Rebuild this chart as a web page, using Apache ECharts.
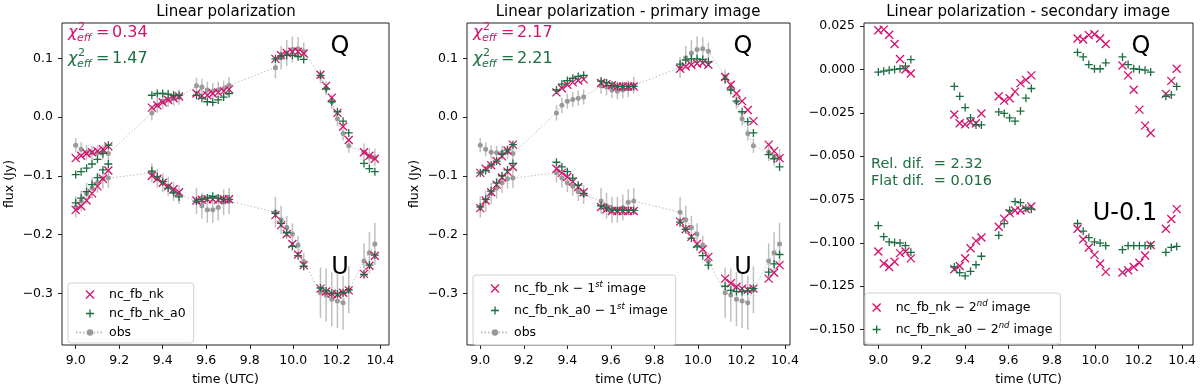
<!DOCTYPE html>
<html>
<head>
<meta charset="utf-8">
<script src="https://cdn.jsdelivr.net/npm/echarts@6/dist/echarts.min.js"></script>
<style>
  html, body { margin: 0; padding: 0; background: #fff; }
  #main { width: 1200px; height: 391px; }
</style>
</head>
<body>
<div id="main"></div>
<script>
// observation times (UTC hours)
const time = [9.0, 9.025, 9.05, 9.075, 9.1, 9.125, 9.15,
  9.35, 9.375, 9.4, 9.425, 9.45, 9.475,
  9.555, 9.58, 9.605, 9.63, 9.655, 9.68, 9.705,
  9.918, 9.944, 9.97, 9.996, 10.022, 10.048,
  10.125, 10.151, 10.177, 10.203, 10.229, 10.255,
  10.325, 10.35, 10.375]

// observed Q / U with errors
const obsQ = [-0.048, -0.055, -0.060, -0.061, -0.061, -0.060, -0.062,
  0.007, 0.020, 0.027, 0.030, 0.032, 0.034,
  0.053, 0.051, 0.046, 0.044, 0.046, 0.048, 0.054,
  0.084, 0.101, 0.109, 0.115, 0.116, 0.112,
  0.069, 0.049, 0.026, -0.003, -0.028, -0.049,
  -0.060, -0.068, -0.069]
const obsQErr = [0.012, 0.012, 0.012, 0.012, 0.012, 0.012, 0.012,
  0.013, 0.013, 0.013, 0.013, 0.013, 0.013,
  0.014, 0.014, 0.014, 0.014, 0.014, 0.014, 0.014,
  0.018, 0.020, 0.022, 0.022, 0.020, 0.015,
  0.012, 0.012, 0.012, 0.012, 0.012, 0.012,
  0.015, 0.015, 0.015]
const obsU = [-0.153, -0.143, -0.130, -0.121, -0.112, -0.105, -0.104,
  -0.095, -0.104, -0.112, -0.118, -0.127, -0.132,
  -0.143, -0.151, -0.158, -0.158, -0.154, -0.145, -0.143,
  -0.162, -0.175, -0.188, -0.199, -0.218, -0.246,
  -0.299, -0.303, -0.310, -0.313, -0.316, -0.294,
  -0.245, -0.231, -0.216]
const obsUErr = [0.018, 0.018, 0.018, 0.018, 0.017, 0.017, 0.017,
  0.016, 0.016, 0.016, 0.016, 0.016, 0.016,
  0.022, 0.022, 0.022, 0.022, 0.022, 0.022, 0.022,
  0.026, 0.024, 0.020, 0.018, 0.016, 0.015,
  0.043, 0.045, 0.046, 0.046, 0.046, 0.040,
  0.030, 0.035, 0.036]

// panel 1 - models
const p1NkQ = [-0.070, -0.066, -0.062, -0.060, -0.058, -0.055, -0.050,
  0.016, 0.020, 0.025, 0.029, 0.032, 0.035,
  0.040, 0.036, 0.037, 0.040, 0.042, 0.044, 0.047,
  0.099, 0.105, 0.109, 0.111, 0.111, 0.108,
  0.072, 0.053, 0.033, 0.007, -0.016, -0.039,
  -0.060, -0.066, -0.071]
const p1A0Q = [-0.098, -0.093, -0.087, -0.080, -0.072, -0.062, -0.048,
  0.037, 0.040, 0.040, 0.039, 0.037, 0.037,
  0.037, 0.032, 0.026, 0.025, 0.029, 0.034, 0.040,
  0.099, 0.104, 0.105, 0.105, 0.103, 0.098,
  0.071, 0.048, 0.026, 0.009, -0.007, -0.027,
  -0.079, -0.088, -0.093]
const p1NkU = [-0.158, -0.152, -0.142, -0.130, -0.118, -0.105, -0.091,
  -0.100, -0.105, -0.112, -0.118, -0.123, -0.128,
  -0.142, -0.141, -0.140, -0.140, -0.141, -0.140, -0.140,
  -0.167, -0.184, -0.199, -0.216, -0.234, -0.252,
  -0.292, -0.297, -0.301, -0.302, -0.299, -0.295,
  -0.267, -0.253, -0.236]
const p1A0U = [-0.146, -0.138, -0.127, -0.115, -0.103, -0.090, -0.080,
  -0.092, -0.102, -0.110, -0.121, -0.129, -0.136,
  -0.143, -0.140, -0.138, -0.135, -0.138, -0.140, -0.140,
  -0.164, -0.181, -0.197, -0.220, -0.236, -0.254,
  -0.291, -0.296, -0.300, -0.301, -0.299, -0.294,
  -0.268, -0.252, -0.235]

// panel 2 - primary image
const p2NkQ = [-0.095, -0.088, -0.082, -0.075, -0.067, -0.057, -0.047,
  0.042, 0.049, 0.055, 0.059, 0.062, 0.064,
  0.058, 0.056, 0.054, 0.052, 0.052, 0.052, 0.052,
  0.082, 0.086, 0.089, 0.091, 0.092, 0.089,
  0.068, 0.055, 0.040, 0.027, 0.012, -0.007,
  -0.047, -0.058, -0.070]
const p2A0Q = [-0.095, -0.091, -0.082, -0.075, -0.063, -0.056, -0.047,
  0.046, 0.056, 0.062, 0.066, 0.069, 0.071,
  0.061, 0.058, 0.054, 0.052, 0.052, 0.052, 0.052,
  0.090, 0.097, 0.099, 0.099, 0.098, 0.094,
  0.064, 0.046, 0.027, 0.009, -0.008, -0.027,
  -0.064, -0.071, -0.085]
const p2NkU = [-0.155, -0.142, -0.128, -0.115, -0.103, -0.093, -0.085,
  -0.088, -0.095, -0.102, -0.110, -0.119, -0.128,
  -0.153, -0.157, -0.160, -0.160, -0.160, -0.160, -0.160,
  -0.178, -0.191, -0.204, -0.216, -0.225, -0.238,
  -0.275, -0.283, -0.289, -0.292, -0.294, -0.292,
  -0.275, -0.265, -0.252]
const p2A0U = [-0.153, -0.140, -0.126, -0.112, -0.100, -0.090, -0.079,
  -0.077, -0.085, -0.093, -0.104, -0.116, -0.130,
  -0.151, -0.155, -0.158, -0.159, -0.159, -0.159, -0.159,
  -0.179, -0.191, -0.206, -0.221, -0.236, -0.252,
  -0.288, -0.295, -0.297, -0.297, -0.296, -0.292,
  -0.264, -0.250, -0.234]

// panel 3 - secondary image (U shifted by -0.1)
const p3NkQ = [0.0226, 0.023, 0.020, 0.0147, 0.006, 0.000, -0.0023,
  -0.026, -0.031, -0.0317, -0.0305, -0.031, -0.0254,
  -0.0155, -0.018, -0.0166, -0.0128, -0.0079, -0.006, -0.0034,
  0.0179, 0.0173, 0.0198, 0.0203, 0.0179, 0.0147,
  0.0023, -0.0034, -0.0117, -0.0232, -0.0324, -0.0367,
  -0.0141, -0.0066, 0.0004]
const p3A0Q = [-0.0015, -0.001, -0.0004, 0.0, 0.0004, 0.0019, 0.0057,
  -0.0098, -0.0155, -0.022, -0.028, -0.032, -0.032,
  -0.0245, -0.0254, -0.028, -0.0298, -0.024, -0.0166, -0.011,
  0.0098, 0.0072, 0.0028, 0.0004, 0.0004, 0.0038,
  0.0072, 0.0028, 0.0004, 0.0, -0.0004, -0.0015,
  -0.0155, -0.0147, -0.0098]
const p3NkU = [-0.105, -0.112, -0.114, -0.111, -0.106, -0.105, -0.109,
  -0.1153, -0.1134, -0.1089, -0.1032, -0.0989, -0.097,
  -0.0908, -0.0861, -0.0829, -0.0814, -0.0814, -0.0806, -0.0791,
  -0.0919, -0.098, -0.1027, -0.107, -0.1121, -0.1168,
  -0.1172, -0.1159, -0.114, -0.1115, -0.1074, -0.1013,
  -0.0919, -0.0863, -0.0806]
const p3A0U = [-0.0901, -0.0965, -0.0995, -0.0999, -0.1002, -0.1017, -0.1055,
  -0.114, -0.1172, -0.1191, -0.1165, -0.1127, -0.1078,
  -0.0957, -0.089, -0.0814, -0.0763, -0.0769, -0.0801, -0.0806,
  -0.0889, -0.0933, -0.097, -0.0995, -0.1002, -0.1017,
  -0.104, -0.1017, -0.1017, -0.1017, -0.1017, -0.1017,
  -0.1055, -0.1027, -0.1021]

const xTicks = [9.0, 9.2, 9.4, 9.6, 9.8, 10.0, 10.2, 10.4]
const yTicks12 = [-0.3, -0.2, -0.1, 0.0, 0.1]
const yTicks3 = [-0.15, -0.125, -0.1, -0.075, -0.05, -0.025, 0.0, 0.025]

const PINK = '#d6106e'
const GREEN = '#1b6e40'
const FONT = 'DejaVu Sans'
const FS = 12.5
const CROSS = 'path://M0,0L10,10M10,0L0,10'
const PLUS = 'path://M5,0L5,10M0,5L10,5'

const minus = (v, d) => (v < 0 ? '\u2212' : '') + Math.abs(v).toFixed(d)
const zip = vals => time.map((t, i) => [t, vals[i]])

let myChart = echarts.init(document.getElementById('main'), null, { renderer: 'canvas' })

function xAxis (idx, min, max) {
  return {
    type: 'value', gridIndex: idx, min: min, max: max,
    name: 'time (UTC)', nameLocation: 'middle', nameGap: 28,
    nameTextStyle: { color: '#000', fontFamily: FONT, fontSize: FS },
    axisLine: { show: false, onZero: false },
    splitLine: { show: false },
    axisTick: { show: true, length: 4, customValues: xTicks, lineStyle: { color: '#222' } },
    axisLabel: { customValues: xTicks, color: '#000', fontFamily: FONT, fontSize: FS, margin: 9,
      formatter: v => v.toFixed(1) }
  }
}

function yAxis (idx, min, max, ticks, dec, withName) {
  return {
    type: 'value', gridIndex: idx, min: min, max: max,
    name: withName ? 'flux (Jy)' : '', nameLocation: 'middle', nameGap: 46,
    nameTextStyle: { color: '#000', fontFamily: FONT, fontSize: FS },
    axisLine: { show: false, onZero: false },
    splitLine: { show: false },
    axisTick: { show: true, length: 4, customValues: ticks, lineStyle: { color: '#222' } },
    axisLabel: { customValues: ticks, color: '#000', fontFamily: FONT, fontSize: FS, margin: 9,
      formatter: v => minus(v, dec) }
  }
}

function errorBars (idx, vals, errs) {
  return {
    type: 'custom', xAxisIndex: idx, yAxisIndex: idx, silent: true, z: 1,
    data: time.map((t, i) => [t, vals[i] - errs[i], vals[i] + errs[i]]),
    encode: { x: 0, y: [1, 2] },
    renderItem: (params, api) => {
      const lo = api.coord([api.value(0), api.value(1)])
      const hi = api.coord([api.value(0), api.value(2)])
      return { type: 'line', shape: { x1: lo[0], y1: lo[1], x2: hi[0], y2: hi[1] },
        style: { stroke: '#c0c0c0', lineWidth: 1.5 } }
    }
  }
}

function obsLine (idx, vals) {
  return {
    name: 'obs', type: 'line', xAxisIndex: idx, yAxisIndex: idx, z: 2,
    data: zip(vals), symbol: 'circle', symbolSize: 5, showSymbol: true,
    lineStyle: { color: '#bdbdbd', width: 1, type: [1.5, 2] },
    itemStyle: { color: '#999999', borderWidth: 0 },
    emphasis: { disabled: true }, silent: true
  }
}

function marks (idx, name, vals, shape, color, z) {
  return {
    name: name, type: 'scatter', xAxisIndex: idx, yAxisIndex: idx, z: z,
    data: zip(vals), symbol: shape, symbolSize: 8,
    itemStyle: { color: 'transparent', borderColor: color, borderWidth: 1.3, opacity: 1 },
    emphasis: { disabled: true }, silent: true
  }
}

const n1 = ['nc_fb_nk', 'nc_fb_nk_a0']
const n2 = ['nc_fb_nk \u2212 1st image', 'nc_fb_nk_a0 \u2212 1st image']
const n3 = ['nc_fb_nk \u2212 2nd image', 'nc_fb_nk_a0 \u2212 2nd image']

function legend (left, top, names, gap, lh, pad) {
  return {
    orient: 'vertical', left: left, top: top, data: names, selectedMode: false,
    itemWidth: 28, itemHeight: 8, itemGap: gap,
    padding: pad,
    backgroundColor: 'rgba(255,255,255,0.8)', borderColor: '#d0d0d0', borderWidth: 1, borderRadius: 3,
    itemStyle: { borderWidth: 1.3 },
    formatter: n => n.replace(/ (\d)(st|nd) /, ' $1{sup|$2} '),
    textStyle: {
      color: '#000', fontFamily: FONT, fontSize: FS, lineHeight: lh,
      rich: { sup: { fontFamily: FONT, fontSize: 8.5, fontStyle: 'italic', lineHeight: 8, verticalAlign: 'top', color: '#000' } }
    }
  }
}

// chi^2_eff = value, drawn as mathtext-like pieces
function chiText (x, y, value, color) {
  const t = (dx, dy, text, font) => ({ type: 'text', x: dx, y: dy,
    style: { text: text, font: font, fill: color, verticalAlign: 'middle' } })
  return {
    type: 'group', x: x, y: y, silent: true,
    children: [
      t(0, 0, '\u03c7', 'italic 16px ' + FONT),
      t(10, -6, '2', '11px ' + FONT),
      t(9, 5, 'eff', 'italic 11px ' + FONT),
      t(28, 0, '=', '16px ' + FONT),
      t(44, 0, value, '16px ' + FONT)
    ]
  }
}

function label (x, y, text, size, color, align) {
  return { type: 'text', x: x, y: y, silent: true,
    style: { text: text, font: size + 'px ' + FONT, fill: color || '#000', align: align || 'center', verticalAlign: 'middle' } }
}

const gridStyle = { show: true, borderColor: '#222', borderWidth: 1, backgroundColor: 'transparent' }

let option = {
  animation: false,
  textStyle: { fontFamily: FONT },
  grid: [
    Object.assign({ left: 62, top: 23, width: 327, height: 329 }, gridStyle),
    Object.assign({ left: 467, top: 23, width: 323, height: 329 }, gridStyle),
    Object.assign({ left: 864, top: 23, width: 329, height: 329 }, gridStyle)
  ],
  xAxis: [
    xAxis(0, 8.937, 10.44),
    xAxis(1, 8.939, 10.423),
    xAxis(2, 8.934, 10.45)
  ],
  yAxis: [
    yAxis(0, -0.388, 0.16, yTicks12, 1, true),
    yAxis(1, -0.388, 0.16, yTicks12, 1, true),
    yAxis(2, -0.159, 0.0268, yTicks3, 3, false)
  ],
  legend: [
    legend(68, 283, [n1[0], n1[1], 'obs'], 6, 13, [5, 8, 4, 7]),
    legend(473, 275, [n2[0], n2[1], 'obs'], 5, 17, [5, 8, 4, 7]),
    legend(865, 293, [n3[0], n3[1]], 5, 17, [6, 8, 6, 7])
  ],
  graphic: [
    label(226, 12, 'Linear polarization', 15),
    label(628, 12, 'Linear polarization - primary image', 15),
    label(1028, 12, 'Linear polarization - secondary image', 15),
    label(340, 47, 'Q', 24), label(340, 268, 'U', 24),
    label(743, 47, 'Q', 24), label(743, 268, 'U', 24),
    label(1141, 47, 'Q', 24), label(1125, 214, 'U-0.1', 24),
    chiText(68, 33, '0.34', PINK), chiText(68, 59, '1.47', GREEN),
    chiText(473, 33, '2.17', PINK), chiText(473, 59, '2.21', GREEN),
    label(871, 164.5, 'Rel. dif.  = 2.32', 14.5, GREEN, 'left'),
    label(871, 181.5, 'Flat dif.  = 0.016', 14.5, GREEN, 'left')
  ],
  series: [
    errorBars(0, obsQ, obsQErr), errorBars(0, obsU, obsUErr),
    obsLine(0, obsQ), obsLine(0, obsU),
    marks(0, n1[0], p1NkQ, CROSS, PINK, 3), marks(0, n1[0], p1NkU, CROSS, PINK, 3),
    marks(0, n1[1], p1A0Q, PLUS, GREEN, 4), marks(0, n1[1], p1A0U, PLUS, GREEN, 4),

    errorBars(1, obsQ, obsQErr), errorBars(1, obsU, obsUErr),
    obsLine(1, obsQ), obsLine(1, obsU),
    marks(1, n2[0], p2NkQ, CROSS, PINK, 3), marks(1, n2[0], p2NkU, CROSS, PINK, 3),
    marks(1, n2[1], p2A0Q, PLUS, GREEN, 4), marks(1, n2[1], p2A0U, PLUS, GREEN, 4),

    marks(2, n3[0], p3NkQ, CROSS, PINK, 3), marks(2, n3[0], p3NkU, CROSS, PINK, 3),
    marks(2, n3[1], p3A0Q, PLUS, GREEN, 4), marks(2, n3[1], p3A0U, PLUS, GREEN, 4)
  ]
}
myChart.setOption(option)
</script>
</body>
</html>
